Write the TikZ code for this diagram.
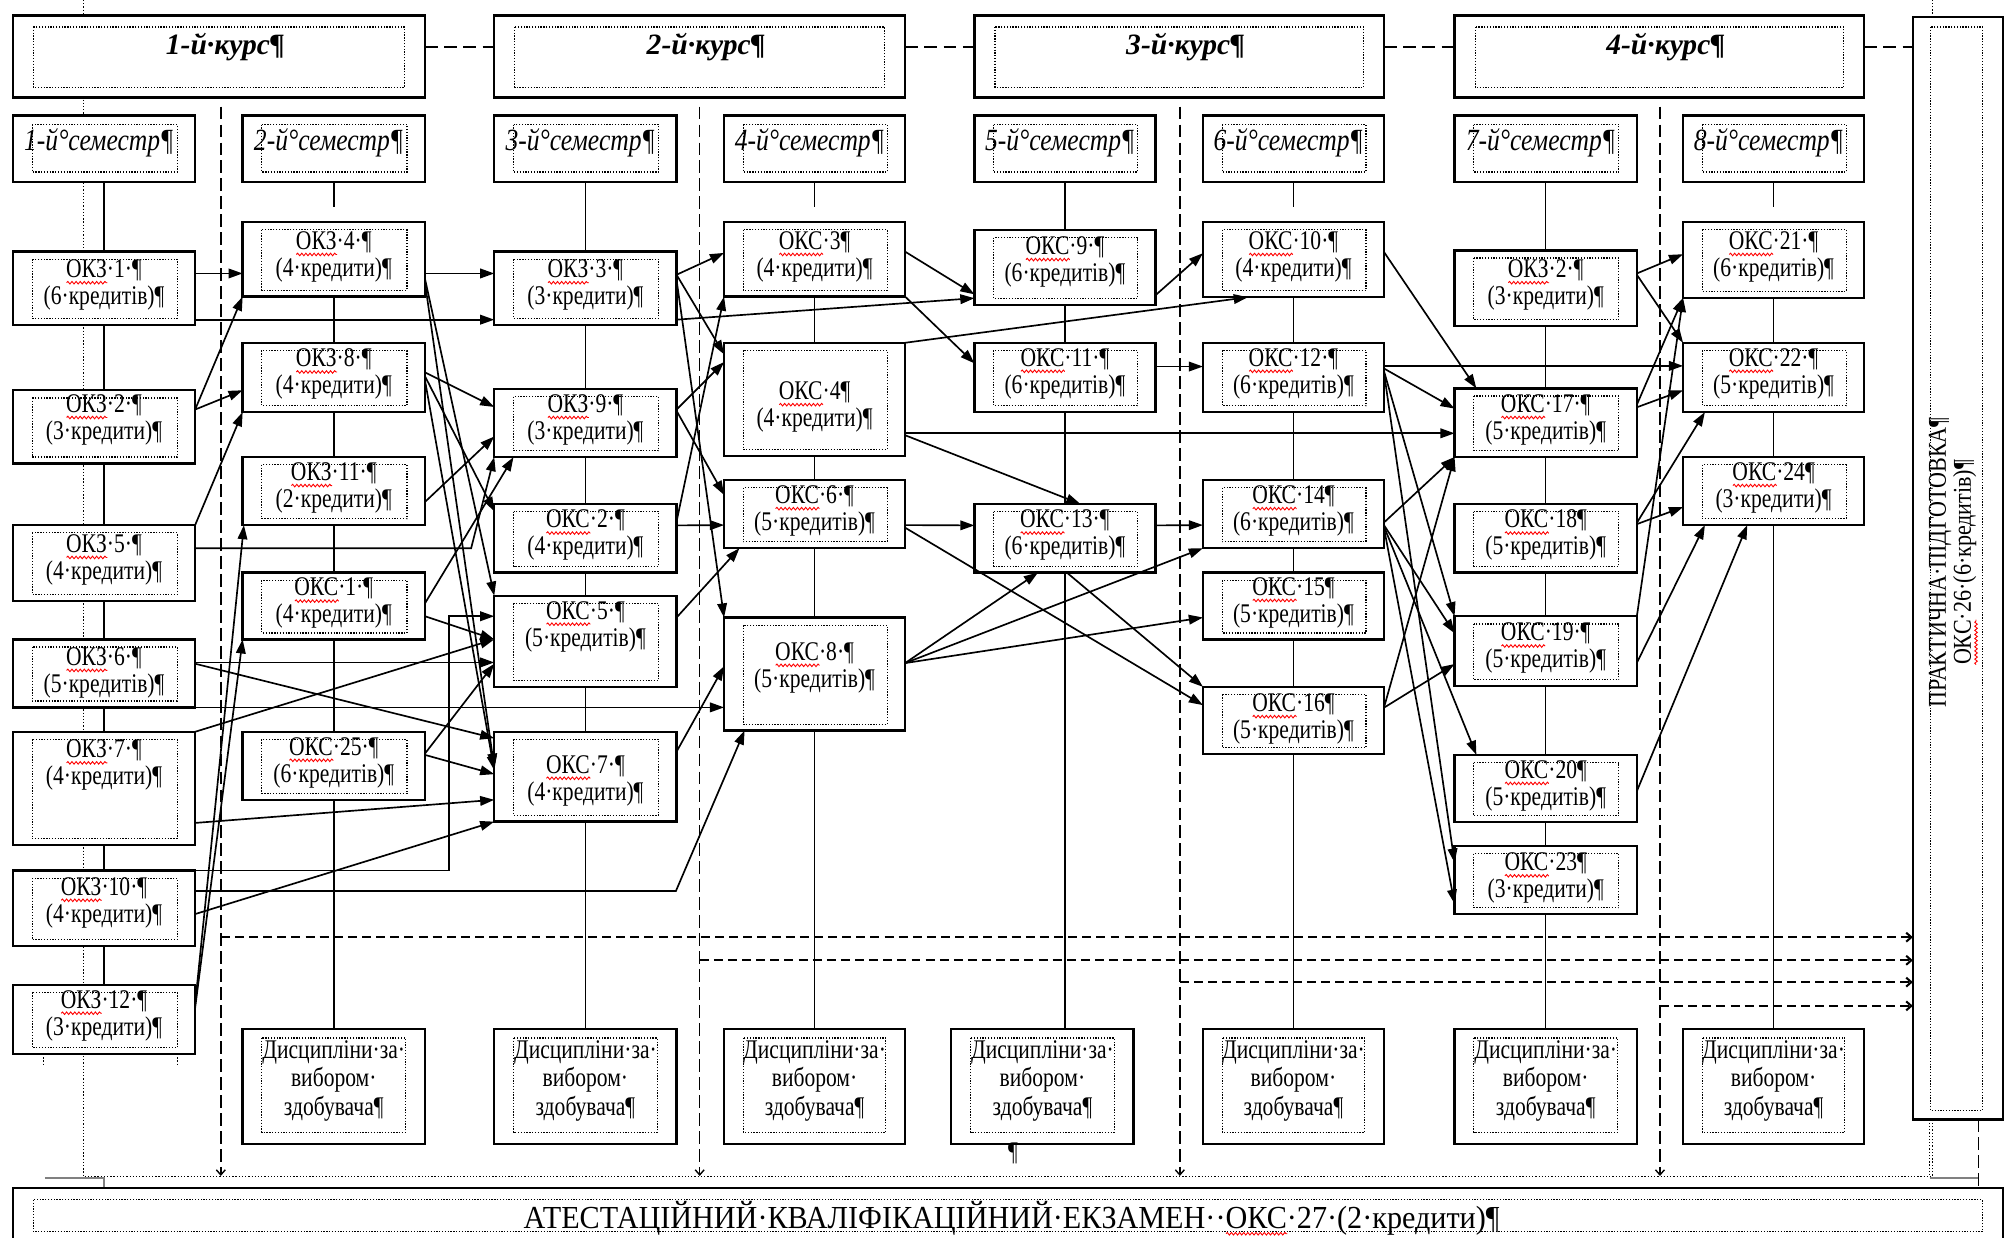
\documentclass[tikz,border=0pt]{standalone}
\usepackage{fontspec}
\setmainfont{Liberation Serif}
\newfontfamily\fca{Liberation Serif}[FakeStretch=0.8]
\newfontfamily\fcb{Liberation Serif}[FakeStretch=0.83]
\newfontfamily\fcc{Liberation Serif}[FakeStretch=0.86]
\newfontfamily\fcd{Liberation Serif}[FakeStretch=0.94]
\usetikzlibrary{arrows.meta,calc,decorations.pathmorphing}
\pgfdeclarelayer{back}
\pgfsetlayers{back,main}
\newcommand\redw[1]{\setbox0\hbox{#1}\rlap{\tikz[x=1pt,y=1pt,baseline=0pt]\draw[red,line width=0.7pt,decorate,decoration={snake,amplitude=1pt,segment length=3.2pt}] (0,-4) -- (\the\wd0,-4);}\box0}
\tikzset{
 box/.style={draw, line width=1.8pt, fill=white, inner sep=0pt, outer sep=0pt},
 innerdot/.style={line width=0.9pt, dash pattern=on 1pt off 1.2pt},
 lbl/.style={font=\fca\fontsize{21}{21}\selectfont, align=center, inner sep=0pt},
 semlbl/.style={font=\fcb\fontsize{24}{24}\selectfont\itshape, inner sep=0pt},
 crslbl/.style={font=\fontsize{23}{27}\selectfont\bfseries\itshape, inner sep=0pt},
 arr/.style={line width=1.3pt, -{Triangle[length=11pt,width=7.5pt]}},
 vline/.style={line width=1.2pt},
 vdash/.style={line width=1.1pt, dash pattern=on 10pt off 4pt, -{Straight Barb[length=4pt,width=7pt]}},
 hdash/.style={line width=1.6pt, dash pattern=on 7pt off 4pt, -{Straight Barb[length=4pt,width=7pt]}},
 cdash/.style={line width=1.4pt, dash pattern=on 10pt off 5pt},
 framedot/.style={line width=0.8pt, dash pattern=on 1pt off 1.5pt},
}
\newcommand\mkbox[8]{%
 \node[box, minimum width={#4-#2}, minimum height={#5-#3}] (#1) at ({(#2+#4)/2},{(#3+#5)/2}) {};
 \draw[innerdot] ($(#1.north west)+(15,6)$) rectangle ($(#1.south east)+(-14,-5)$);
 \node[lbl] at ({(#2+#4)/2},#6) {#7\\#8};
}
\newcommand\mksem[4]{%
 \node[box, minimum width={#3-#2}, minimum height=52] (#1) at ({(#2+#3)/2},116) {};
 \draw[innerdot] ($(#1.north west)+(15,7)$) rectangle ($(#1.south east)+(-14,-8)$);
 \node[semlbl] at ({(#2+#3)/2-4},111) {#4};
}
\newcommand\mkcrs[4]{%
 \node[box, minimum width={#3-#2}, minimum height=64] (#1) at ({(#2+#3)/2},44) {};
 \draw[innerdot] ($(#1.north west)+(16,9)$) rectangle ($(#1.south east)+(-16,-8)$);
 \node[crslbl] at ({(#2+#3)/2+5},37) {#4};
}
\newcommand\mkdis[3]{%
 \node[box, minimum width={#3-#2}, minimum height=89.5] (#1) at ({(#2+#3)/2},846.25) {};
 \draw[innerdot] ($(#1.north west)+(15,7)$) rectangle ($(#1.south east)+(-15,-9)$);
 \node[lbl, font=\fca\fontsize{21}{22}\selectfont] at ({(#2+#3)/2},842) {Дисципліни·за·\\вибором·\\здобувача¶};
}
\begin{document}
\begin{tikzpicture}[x=1pt,y=-1pt]
\clip (0,0) rectangle (1568,964.3);
\begin{pgfonlayer}{back}
\fill[white] (0,0) rectangle (1568,964.3);
\end{pgfonlayer}

% course row
\mkcrs{k1}{10}{331}{1-й·курс¶}
\mkcrs{k2}{385}{705}{2-й·курс¶}
\mkcrs{k3}{759}{1078}{3-й·курс¶}
\mkcrs{k4}{1133}{1452}{4-й·курс¶}

% practical training
\node[box, minimum width=70, minimum height=859] (pr) at (1525,442.5) {};
\draw[innerdot] (1504,21) rectangle (1544,865);
\node[rotate=90, align=center, font=\fcc\fontsize{20}{19.5}\selectfont, inner sep=0pt] (prt) at (1521.5,438) {ПРАКТИЧНА·ПІДГОТОВКА¶\\\redw{ОКС}·26·(6·кредитів)¶};

% semesters
\mksem{s1}{10}{152}{1-й°семестр¶}
\mksem{s2}{189}{331}{2-й°семестр¶}
\mksem{s3}{385}{527}{3-й°семестр¶}
\mksem{s4}{564}{705}{4-й°семестр¶}
\mksem{s5}{759}{900}{5-й°семестр¶}
\mksem{s6}{937}{1078}{6-й°семестр¶}
\mksem{s7}{1133}{1275}{7-й°семестр¶}
\mksem{s8}{1311}{1452}{8-й°семестр¶}

% column 1
\mkbox{okz1}{10}{196}{152}{253}{222}{\redw{ОКЗ}·1·¶}{(6·кредитів)¶}
\mkbox{okzb}{10}{304}{152}{361}{327}{\redw{ОКЗ}·2·¶}{(3·кредити)¶}
\mkbox{okz5}{10}{409}{152}{468}{436}{\redw{ОКЗ}·5·¶}{(4·кредити)¶}
\mkbox{okz6}{10}{498}{152}{551}{524}{\redw{ОКЗ}·6·¶}{(5·кредитів)¶}
\mkbox{okz7}{10}{570}{152}{658}{596}{\redw{ОКЗ}·7·¶}{(4·кредити)¶}
\mkbox{okz10}{10}{678}{152}{737}{703}{\redw{ОКЗ}·10·¶}{(4·кредити)¶}
\mkbox{okz12}{10}{767}{152}{821}{791}{\redw{ОКЗ}·12·¶}{(3·кредити)¶}
\draw[framedot] (33.8,821) -- (33.8,829.5) (138.4,821) -- (138.4,829.5);
% column 2
\mkbox{okz4}{189}{173}{331}{231}{200}{\redw{ОКЗ}·4·¶}{(4·кредити)¶}
\mkbox{okz8}{189}{267}{331}{321}{291.5}{\redw{ОКЗ}·8·¶}{(4·кредити)¶}
\mkbox{okz11}{189}{356}{331}{409}{380}{\redw{ОКЗ}·11·¶}{(2·кредити)¶}
\mkbox{oks1}{189}{446}{331}{498}{470}{\redw{ОКС}·1·¶}{(4·кредити)¶}
\mkbox{oks25}{189}{570}{331}{623}{594}{\redw{ОКС}·25·¶}{(6·кредитів)¶}
% column 3
\mkbox{okz3}{385}{196}{527}{253}{222}{\redw{ОКЗ}·3·¶}{(3·кредити)¶}
\mkbox{okz9}{385}{303}{527}{356}{327}{\redw{ОКЗ}·9·¶}{(3·кредити)¶}
\mkbox{oks2}{385}{392.5}{527}{446}{417}{\redw{ОКС}·2·¶}{(4·кредити)¶}
\mkbox{oks5}{385}{464}{527}{535}{488}{\redw{ОКС}·5·¶}{(5·кредитів)¶}
\mkbox{oks7}{385}{570}{527}{640}{608}{\redw{ОКС}·7·¶}{(4·кредити)¶}
% column 4
\mkbox{oks3}{564}{173}{705}{231}{200}{\redw{ОКС}·3¶}{(4·кредити)¶}
\mkbox{oks4}{564}{267}{705}{355}{317}{\redw{ОКС}·4¶}{(4·кредити)¶}
\mkbox{oks6}{564}{374}{705}{427}{398}{\redw{ОКС}·6·¶}{(5·кредитів)¶}
\mkbox{oks8}{564}{481}{705}{569}{520}{\redw{ОКС}·8·¶}{(5·кредитів)¶}
% column 5
\mkbox{oks9}{759}{179}{900}{237.5}{204}{\redw{ОКС}·9·¶}{(6·кредитів)¶}
\mkbox{oks11}{759}{267}{900}{321}{291}{\redw{ОКС}·11·¶}{(6·кредитів)¶}
\mkbox{oks13}{759}{392.5}{900}{446}{417}{\redw{ОКС}·13·¶}{(6·кредитів)¶}
% column 6
\mkbox{oks10}{937}{173}{1078}{231.5}{200}{\redw{ОКС}·10·¶}{(4·кредити)¶}
\mkbox{oks12}{937}{267}{1078}{321}{291}{\redw{ОКС}·12·¶}{(6·кредитів)¶}
\mkbox{oks14}{937}{374}{1078}{427}{398}{\redw{ОКС}·14¶}{(6·кредитів)¶}
\mkbox{oks15}{937}{446}{1078}{498}{469.5}{\redw{ОКС}·15¶}{(5·кредитів)¶}
\mkbox{oks16}{937}{535}{1078}{587.5}{560}{\redw{ОКС}·16¶}{(5·кредитів)¶}
% column 7
\mkbox{okzg}{1133}{195}{1275}{254}{222}{\redw{ОКЗ}·2·¶}{(3·кредити)¶}
\mkbox{oks17}{1133}{302.5}{1275}{356}{327}{\redw{ОКС}·17·¶}{(5·кредитів)¶}
\mkbox{oks18}{1133}{392.5}{1275}{446}{417}{\redw{ОКС}·18¶}{(5·кредитів)¶}
\mkbox{oks19}{1133}{480}{1275}{534.5}{505}{\redw{ОКС}·19·¶}{(5·кредитів)¶}
\mkbox{oks20}{1133}{588}{1275}{640.5}{612}{\redw{ОКС}·20¶}{(5·кредитів)¶}
\mkbox{oks23}{1133}{659}{1275}{712}{684}{\redw{ОКС}·23¶}{(3·кредити)¶}
% column 8
\mkbox{oks21}{1311}{173}{1452}{232}{200}{\redw{ОКС}·21·¶}{(6·кредитів)¶}
\mkbox{oks22}{1311}{267}{1452}{321}{291}{\redw{ОКС}·22·¶}{(5·кредитів)¶}
\mkbox{oks24}{1311}{356}{1452}{409}{380}{\redw{ОКС}·24¶}{(3·кредити)¶}

% elective boxes
\mkdis{d2}{189}{331}
\mkdis{d3}{385}{527}
\mkdis{d4}{564}{705}
\mkdis{d5}{741}{883}
\mkdis{d6}{937}{1078}
\mkdis{d7}{1133}{1275}
\mkdis{d8}{1311}{1452}
\node[font=\fca\fontsize{21}{21}\selectfont, inner sep=0pt] (pil) at (789,898) {¶};

% final exam
\node[box, minimum width=1550, minimum height=54.5] (att) at (785,952.75) {};
\draw[innerdot] (26,934.6) rectangle (1544,959.5);
\node[anchor=base, font=\fcd\fontsize{25}{28}\selectfont, inner sep=0pt] (attt) at (788,957) {АТЕСТАЦІЙНИЙ·КВАЛІФІКАЦІЙНИЙ·ЕКЗАМЕН··\redw{ОКС}·27·(2·кредити)¶};

% background lines
\begin{pgfonlayer}{back}
\draw[framedot] (65,0) -- (65,916.6) -- (1505,916.6) -- (1505,0);
\draw[framedot] (1503,872) -- (1503,916.6);
\draw[line width=1pt, dash pattern=on 10pt off 4pt] (1541,872) -- (1541,925);
\draw[gray, line width=1pt] (35,917.5) -- (81,917.5) -- (81,925.5);
\draw[gray, line width=1pt] (1503,917.5) -- (1541,917.5);
\draw[vline] (s1.south) -- (okz12.north);
\draw[vline] (s2.south) -- ++(0,19);
\draw[vline] (okz4.south) -- (d2.north);
\draw[vline] (s3.south) -- (d3.north);
\draw[vline] (s4.south) -- ++(0,19);
\draw[vline] (oks3.south) -- (d4.north);
\draw[vline] (s5.south) -- (s5.south |- d5.north);
\draw[vline] (s6.south) -- ++(0,19);
\draw[vline] (oks10.south) -- (d6.north);
\draw[vline] (s7.south) -- (d7.north);
\draw[vline] (s8.south) -- ++(0,19);
\draw[vline] (oks21.south) -- (d8.north);
\end{pgfonlayer}

% course dashed links
\draw[cdash] ($(k1.east)+(0,-7.7)$) -- ($(k2.west)+(0,-7.7)$);
\draw[cdash] ($(k2.east)+(0,-7.7)$) -- ($(k3.west)+(0,-7.7)$);
\draw[cdash] ($(k3.east)+(0,-7.7)$) -- ($(k4.west)+(0,-7.7)$);
\draw[cdash] ($(k4.east)+(0,-7.7)$) -- ($(k4.east -| pr.west)+(0,-7.7)$);

% dashed verticals and horizontals
\coordinate (v1t) at (172,83); \coordinate (v1b) at (172,916);
\coordinate (v2t) at (545,83); \coordinate (v2b) at (545,916);
\coordinate (v3t) at (919,83); \coordinate (v3b) at (919,916);
\coordinate (v4t) at (1293,83); \coordinate (v4b) at (1293,916);
\draw[vdash] (v1t) -- (v1b);
\draw[vdash] (v2t) -- (v2b);
\draw[vdash] (v3t) -- (v3b);
\draw[vdash] (v4t) -- (v4b);
\coordinate (h1) at (172,730);
\coordinate (h2) at (545,748);
\coordinate (h3) at (919,765);
\coordinate (h4) at (1293,783.5);
\draw[hdash] (h1) -- (h1 -| pr.west);
\draw[hdash] (h2) -- (h2 -| pr.west);
\draw[hdash] (h3) -- (h3 -| pr.west);
\draw[hdash] (h4) -- (h4 -| pr.west);

% route waypoints
\coordinate (c6) at (367,427);
\coordinate (c13a) at (349.5,678);
\coordinate (c13b) at (349.5,480);
\coordinate (c14) at (526.5,694);

% connectors: column 1
\draw[arr] ($(okz1.east)+(0,-11.5)$) -- ($(okz4.west)+(0,11)$);
\draw[arr] ($(okz1.east)+(0,24.5)$) -- ($(okz3.west)+(0,24.5)$);
\draw[arr] ($(okzb.east)+(0,-13.5)$) -- (okz4.south west);
\draw[arr] ($(okzb.east)+(0,-13.5)$) -- ($(okz8.west)+(0,10)$);
\draw[arr] (okz5.north east) -- (okz8.south west);
\draw[arr] ($(okz5.east)+(0,-11.5)$) -- (c6) -- (okz9.south west);
\draw[arr] ($(okz6.east)+(0,-8.5)$) -- ($(oks5.west)+(0,16.5)$);
\draw[arr] ($(okz6.east)+(0,-7.5)$) -- ($(oks7.west)+(0,-30)$);
\draw[arr] (okz6.south east) -- ($(oks8.west)+(0,26)$);
\draw[arr] (okz7.north east) -- ($(oks5.west)+(0,-1.5)$);
\draw[arr] ($(okz7.east)+(0,27)$) -- ($(oks7.west)+(0,18)$);
\draw[arr] ($(okz10.east)+(0,4.5)$) -- (oks7.south west);
\draw[arr] (okz10.north east) -- (c13a) -- (c13b) -- (c13b -| oks5.west);
\draw[arr] ($(okz10.east)+(0,-13.5)$) -- (c14) -- ($(oks8.south west)+(16,0)$);
\draw[arr] ($(okz12.east)+(0,-12)$) -- ($(okz11.south west)+(1,0)$);
\draw[arr] ($(okz12.east)+(0,-9)$) -- (oks1.south west);
% column 2
\draw[arr] ($(okz4.east)+(0,11)$) -- ($(okz3.west)+(0,-11.5)$);
\draw[arr] ($(okz4.east)+(0,15)$) -- (oks5.north west);
\draw[arr] ($(okz4.east)+(0,18)$) -- ($(oks7.west)+(0,-7)$);
\draw[arr] ($(okz8.east)+(0,-4)$) -- ($(okz9.west)+(0,-12.5)$);
\draw[arr] ($(okz8.east)+(0,-1)$) -- ($(oks2.west)+(0,-21)$);
\draw[arr] ($(okz8.east)+(0,2)$) -- ($(oks7.west)+(0,-5)$);
\draw[arr] ($(okz11.east)+(0,8.5)$) -- ($(okz9.west)+(0,10.5)$);
\draw[arr] ($(oks1.east)+(0,-2)$) -- ($(okz9.south west)+(15,0)$);
\draw[arr] ($(oks1.east)+(0,8)$) -- ($(oks5.west)+(0,-1.5)$);
\draw[arr] ($(oks25.east)+(0,-9.5)$) -- ($(oks5.west)+(0,17.5)$);
\draw[arr] ($(oks25.east)+(0,-8.5)$) -- ($(oks7.west)+(0,-2)$);
% column 3
\draw[arr] ($(okz3.east)+(0,-10.5)$) -- ($(oks3.west)+(0,-5)$);
\draw[arr] ($(okz3.east)+(0,-10.5)$) -- ($(oks4.west)+(0,-35)$);
\draw[arr] ($(okz3.east)+(0,24.5)$) -- ($(oks9.west)+(0,24)$);
\draw[arr] ($(okz3.east)+(0,-6.5)$) -- (oks8.north west);
\draw[arr] ($(okz9.east)+(0,-10.5)$) -- ($(oks4.west)+(0,-29)$);
\draw[arr] ($(okz9.east)+(0,-9.5)$) -- ($(oks6.west)+(0,-15)$);
\draw[arr] ($(oks2.east)+(0,-13)$) -- (oks3.south west);
\draw[arr] ($(oks2.east)+(0,-10)$) -- ($(oks6.west)+(0,8.5)$);
\draw[arr] ($(oks5.east)+(0,-18.5)$) -- ($(oks6.south west)+(12,0)$);
\draw[arr] ($(oks7.east)+(0,-19.5)$) -- ($(oks8.west)+(0,-6)$);
% column 4
\draw[arr] ($(oks3.east)+(0,-6)$) -- ($(oks9.west)+(0,21)$);
\draw[arr] (oks3.south east) -- ($(oks11.west)+(0,-11)$);
\draw[arr] (oks4.north east) -- ($(oks10.south west)+(35,0)$);
\draw[arr] ($(oks4.east)+(0,26.5)$) -- ($(oks17.west)+(0,8.25)$);
\draw[arr] ($(oks4.east)+(0,28)$) -- ($(oks13.north)+(12,0)$);
\draw[arr] ($(oks6.east)+(0,8.5)$) -- ($(oks13.west)+(0,-10)$);
\draw[arr] ($(oks6.east)+(0,10.5)$) -- ($(oks16.west)+(0,-12)$);
\draw[arr] ($(oks8.east)+(0,-8.5)$) -- ($(oks13.south)+(-21,0)$);
\draw[arr] ($(oks8.east)+(0,-8.5)$) -- (oks14.south west);
\draw[arr] ($(oks8.east)+(0,-8.5)$) -- ($(oks15.west)+(0,9)$);
% column 5
\draw[arr] ($(oks9.east)+(0,21.75)$) -- ($(oks10.west)+(0,-5)$);
\draw[arr] ($(oks11.east)+(0,-8.5)$) -- ($(oks12.west)+(0,-8.5)$);
\draw[arr] ($(oks13.east)+(0,-10)$) -- ($(oks14.west)+(0,8.5)$);
\draw[arr] ($(oks13.south)+(1.5,0)$) -- (oks16.north west);
% column 6
\draw[arr] ($(oks10.east)+(0,-6)$) -- ($(oks17.north west)+(17,0)$);
\draw[arr] ($(oks12.east)+(0,-9)$) -- ($(oks22.west)+(0,-9)$);
\draw[arr] ($(oks12.east)+(0,-7)$) -- ($(oks17.west)+(0,-11)$);
\draw[arr] ($(oks12.east)+(0,-5)$) -- (oks19.north west);
\draw[arr] ($(oks12.east)+(0,-4)$) -- ($(oks23.west)+(0,-13.5)$);
\draw[arr] ($(oks14.east)+(0,6.5)$) -- (oks17.south west);
\draw[arr] ($(oks14.east)+(0,8.5)$) -- ($(oks19.west)+(0,-14)$);
\draw[arr] ($(oks14.east)+(0,9.5)$) -- ($(oks20.north west)+(17,0)$);
\draw[arr] ($(oks14.east)+(0,10.5)$) -- ($(oks23.west)+(0,18.5)$);
\draw[arr] ($(oks16.east)+(0,-10)$) -- (oks17.south west);
\draw[arr] ($(oks16.east)+(0,-10)$) -- ($(oks19.west)+(0,10)$);
% column 7
\draw[arr] ($(okzg.east)+(0,-11.5)$) -- ($(oks21.west)+(0,-4.5)$);
\draw[arr] ($(okzg.east)+(0,-10.5)$) -- (oks22.north west);
\draw[arr] ($(oks17.east)+(0,-14)$) -- (oks21.south west);
\draw[arr] ($(oks17.east)+(0,-12)$) -- ($(oks22.west)+(0,10)$);
\draw[arr] ($(oks18.east)+(0,-11)$) -- ($(oks24.west)+(0,12.5)$);
\draw[arr] ($(oks18.east)+(0,-12)$) -- ($(oks22.south west)+(17,0)$);
\draw[arr] (oks19.north east) -- (oks21.south west);
\draw[arr] ($(oks19.east)+(0,9)$) -- ($(oks24.south west)+(17,0)$);
\draw[arr] ($(oks20.east)+(0,2)$) -- ($(oks24.south)+(-20.5,0)$);
\end{tikzpicture}
\end{document}
